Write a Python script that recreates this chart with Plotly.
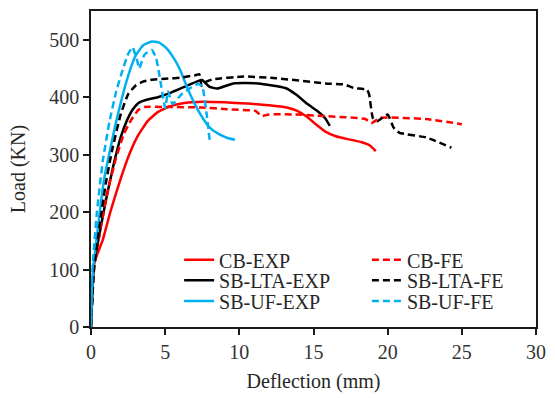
import plotly.graph_objects as go

# ---- data (deflection mm, load kN) ----
cb_exp_x = [0, 0.2, 0.8, 1.3, 1.9, 2.5, 3.1, 3.8, 4.5, 5.3, 6.3, 7.5, 9, 10.5, 12, 13.2, 13.9, 14.6, 15.2, 15.8, 16.5, 17.3, 18.2, 18.8, 19.2]
cb_exp_y = [0, 110, 152, 200, 250, 295, 330, 358, 374, 384, 390, 392, 391, 389, 386, 382, 376, 365, 352, 340, 332, 327, 322, 316, 306]

cb_fe_x = [0, 0.2, 0.7, 1.2, 1.7, 2.2, 2.7, 3.2, 3.6, 5, 7.5, 9.2, 11.1, 11.5, 12, 13.6, 15.8, 18.5, 18.9, 19.5, 22.6, 25]
cb_fe_y = [0, 100, 180, 245, 295, 335, 360, 378, 383, 383, 382, 379, 376, 367, 370, 370, 367, 362, 355, 364, 362, 353]

lta_exp_x = [0, 0.2, 0.5, 1.0, 1.5, 2.0, 2.4, 2.8, 3.2, 3.7, 4.5, 5.4, 6.3, 7.2, 7.5, 7.7, 8.0, 8.5, 9.6, 11.3, 13.1, 13.8, 14.6, 15.3, 15.8, 16.1]
lta_exp_y = [0, 110, 152, 220, 280, 330, 358, 378, 390, 395, 400, 408, 418, 428, 430, 425, 418, 415, 424, 424, 416, 405, 388, 375, 363, 350]

lta_fe_x = [0, 0.2, 0.6, 1.0, 1.4, 2.0, 2.5, 3.0, 3.5, 4.0, 5.0, 6.0, 7.0, 7.3, 7.45, 7.6, 8.2, 10.3, 12.5, 15.8, 17.1, 17.7, 18.6, 18.75, 19.0, 19.3, 20.0, 20.4, 20.8, 22.6, 24.3]
lta_fe_y = [0, 100, 180, 250, 305, 370, 405, 420, 427, 430, 432, 434, 438, 440, 420, 425, 431, 436, 433, 424, 422, 416, 413, 405, 364, 358, 370, 347, 338, 330, 312]

uf_exp_x = [0, 0.15, 0.5, 0.9, 1.3, 1.7, 2.1, 2.6, 3.0, 3.5, 4.1, 4.6, 5.1, 5.6, 6.0, 6.5, 7.0, 7.5, 8.0, 8.6, 9.2, 9.7]
uf_exp_y = [0, 100, 180, 260, 310, 358, 400, 445, 472, 490, 497, 495, 485, 467, 448, 416, 388, 365, 347, 336, 329, 326]

uf_fe_x = [0, 0.1, 0.4, 0.8, 1.25, 1.7, 2.1, 2.5, 2.8, 3.1, 3.25, 3.6, 4.1, 4.4, 4.9, 5.0, 5.2, 5.5, 6.1, 6.7, 7.2, 7.5, 7.8, 8.0]
uf_fe_y = [0, 100, 200, 290, 358, 410, 445, 475, 487, 465, 450, 474, 482, 467, 393, 381, 410, 388, 405, 416, 423, 419, 370, 325]

x_ticks = [0, 5, 10, 15, 20, 25, 30]
y_ticks = [0, 100, 200, 300, 400, 500]

RED = "#FF0000"
BLACK = "#000000"
CYAN = "#00B0F0"
DASH = "7px,4px"
FONT = "Liberation Serif, Times New Roman, serif"
FS = 20

# legend slot for each series: (legend id, paper x, paper y)
series = [
    ("CB-EXP", cb_exp_x, cb_exp_y, RED, "solid", "legend", 0.198, 0.213),
    ("SB-LTA-EXP", lta_exp_x, lta_exp_y, BLACK, "solid", "legend2", 0.198, 0.148),
    ("SB-UF-EXP", uf_exp_x, uf_exp_y, CYAN, "solid", "legend3", 0.198, 0.082),
    ("CB-FE", cb_fe_x, cb_fe_y, RED, DASH, "legend4", 0.620, 0.213),
    ("SB-LTA-FE", lta_fe_x, lta_fe_y, BLACK, DASH, "legend5", 0.620, 0.148),
    ("SB-UF-FE", uf_fe_x, uf_fe_y, CYAN, DASH, "legend6", 0.620, 0.082),
]

fig = go.Figure()
legends = {}
for name, xs, ys, col, dash, lg, lx, ly in series:
    fig.add_trace(go.Scatter(x=xs, y=ys, name=name, mode="lines", showlegend=True,
                             line=dict(color=col, width=2.5, dash=dash, shape="spline", smoothing=0.4),
                             legend=lg))
    legends[lg] = dict(x=lx, y=ly, xanchor="left", yanchor="middle", visible=True,
                       font=dict(family=FONT, size=FS, color="#262626"),
                       bgcolor="rgba(0,0,0,0)", borderwidth=0)

axis_common = dict(showgrid=False, zeroline=False,
                   showline=True, linecolor="#1a1a1a", linewidth=1.5, mirror=True,
                   ticks="outside", ticklen=6, tickcolor="#1a1a1a", tickwidth=1.5,
                   tickfont=dict(family=FONT, size=FS, color="#333333"))

fig.update_layout(
    width=555, height=398,
    showlegend=True,
    margin=dict(l=91, r=9, t=9, b=70),
    paper_bgcolor="white", plot_bgcolor="white",
    font=dict(family=FONT, size=FS, color="#333333"),
    xaxis=dict(range=[0, 30], tickvals=x_ticks, **axis_common,
               title=dict(text="Deflection (mm)", font=dict(family=FONT, size=FS, color="#262626"), standoff=12)),
    yaxis=dict(range=[0, 550], tickvals=y_ticks, **axis_common,
               title=dict(text="Load (KN)", font=dict(family=FONT, size=FS, color="#262626"), standoff=18)),
    **legends,
)

fig.write_html("out.html")
